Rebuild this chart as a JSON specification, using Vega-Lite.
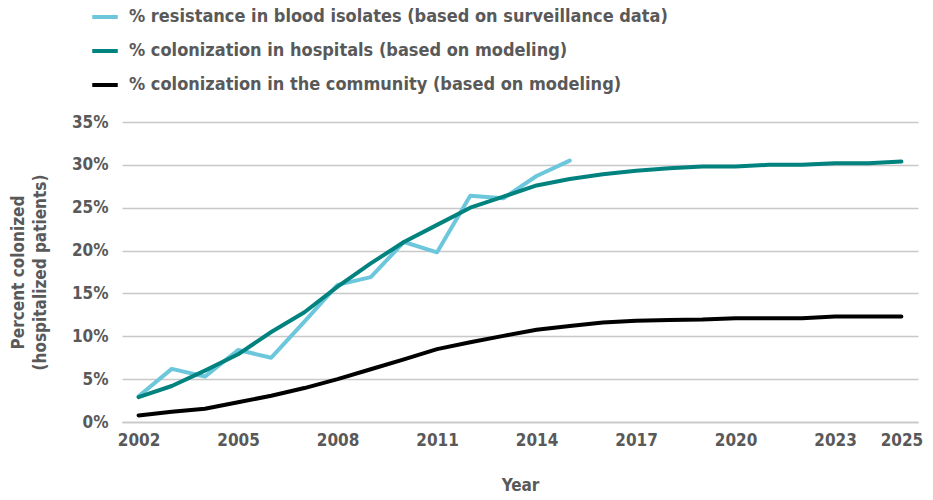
{
  "$schema": "https://vega.github.io/schema/vega-lite/v6.json",
  "width": 796,
  "height": 300,
  "autosize": {"type": "none"},
  "padding": {"left": 122, "top": 122, "right": 15, "bottom": 78},
  "background": "white",
  "config": {
    "view": {"stroke": null},
    "font": "DejaVu Sans Condensed",
    "axis": {"labelFont": "DejaVu Sans Condensed", "titleFont": "DejaVu Sans Condensed"},
    "legend": {"labelFont": "DejaVu Sans Condensed"}
  },
  "data": {
    "values": [
      {"year": 2002, "series": "% resistance in blood isolates (based on surveillance data)", "value": 3.0},
      {"year": 2003, "series": "% resistance in blood isolates (based on surveillance data)", "value": 6.2},
      {"year": 2004, "series": "% resistance in blood isolates (based on surveillance data)", "value": 5.3},
      {"year": 2005, "series": "% resistance in blood isolates (based on surveillance data)", "value": 8.4},
      {"year": 2006, "series": "% resistance in blood isolates (based on surveillance data)", "value": 7.5},
      {"year": 2007, "series": "% resistance in blood isolates (based on surveillance data)", "value": 11.7},
      {"year": 2008, "series": "% resistance in blood isolates (based on surveillance data)", "value": 16.0},
      {"year": 2009, "series": "% resistance in blood isolates (based on surveillance data)", "value": 16.9},
      {"year": 2010, "series": "% resistance in blood isolates (based on surveillance data)", "value": 21.0},
      {"year": 2011, "series": "% resistance in blood isolates (based on surveillance data)", "value": 19.8},
      {"year": 2012, "series": "% resistance in blood isolates (based on surveillance data)", "value": 26.4},
      {"year": 2013, "series": "% resistance in blood isolates (based on surveillance data)", "value": 26.1},
      {"year": 2014, "series": "% resistance in blood isolates (based on surveillance data)", "value": 28.7},
      {"year": 2015, "series": "% resistance in blood isolates (based on surveillance data)", "value": 30.5},
      {"year": 2002, "series": "% colonization in hospitals (based on modeling)", "value": 2.9},
      {"year": 2003, "series": "% colonization in hospitals (based on modeling)", "value": 4.2},
      {"year": 2004, "series": "% colonization in hospitals (based on modeling)", "value": 6.0},
      {"year": 2005, "series": "% colonization in hospitals (based on modeling)", "value": 7.9},
      {"year": 2006, "series": "% colonization in hospitals (based on modeling)", "value": 10.5},
      {"year": 2007, "series": "% colonization in hospitals (based on modeling)", "value": 12.8},
      {"year": 2008, "series": "% colonization in hospitals (based on modeling)", "value": 15.8},
      {"year": 2009, "series": "% colonization in hospitals (based on modeling)", "value": 18.5},
      {"year": 2010, "series": "% colonization in hospitals (based on modeling)", "value": 21.0},
      {"year": 2011, "series": "% colonization in hospitals (based on modeling)", "value": 23.0},
      {"year": 2012, "series": "% colonization in hospitals (based on modeling)", "value": 25.0},
      {"year": 2013, "series": "% colonization in hospitals (based on modeling)", "value": 26.3},
      {"year": 2014, "series": "% colonization in hospitals (based on modeling)", "value": 27.6},
      {"year": 2015, "series": "% colonization in hospitals (based on modeling)", "value": 28.35},
      {"year": 2016, "series": "% colonization in hospitals (based on modeling)", "value": 28.9},
      {"year": 2017, "series": "% colonization in hospitals (based on modeling)", "value": 29.3},
      {"year": 2018, "series": "% colonization in hospitals (based on modeling)", "value": 29.6},
      {"year": 2019, "series": "% colonization in hospitals (based on modeling)", "value": 29.8},
      {"year": 2020, "series": "% colonization in hospitals (based on modeling)", "value": 29.8},
      {"year": 2021, "series": "% colonization in hospitals (based on modeling)", "value": 30.0},
      {"year": 2022, "series": "% colonization in hospitals (based on modeling)", "value": 30.0},
      {"year": 2023, "series": "% colonization in hospitals (based on modeling)", "value": 30.2},
      {"year": 2024, "series": "% colonization in hospitals (based on modeling)", "value": 30.2},
      {"year": 2025, "series": "% colonization in hospitals (based on modeling)", "value": 30.4},
      {"year": 2002, "series": "% colonization in the community (based on modeling)", "value": 0.77},
      {"year": 2003, "series": "% colonization in the community (based on modeling)", "value": 1.2},
      {"year": 2004, "series": "% colonization in the community (based on modeling)", "value": 1.55},
      {"year": 2005, "series": "% colonization in the community (based on modeling)", "value": 2.3},
      {"year": 2006, "series": "% colonization in the community (based on modeling)", "value": 3.07},
      {"year": 2007, "series": "% colonization in the community (based on modeling)", "value": 3.96},
      {"year": 2008, "series": "% colonization in the community (based on modeling)", "value": 5.0},
      {"year": 2009, "series": "% colonization in the community (based on modeling)", "value": 6.15},
      {"year": 2010, "series": "% colonization in the community (based on modeling)", "value": 7.3},
      {"year": 2011, "series": "% colonization in the community (based on modeling)", "value": 8.5},
      {"year": 2012, "series": "% colonization in the community (based on modeling)", "value": 9.3},
      {"year": 2013, "series": "% colonization in the community (based on modeling)", "value": 10.05},
      {"year": 2014, "series": "% colonization in the community (based on modeling)", "value": 10.77},
      {"year": 2015, "series": "% colonization in the community (based on modeling)", "value": 11.2},
      {"year": 2016, "series": "% colonization in the community (based on modeling)", "value": 11.6},
      {"year": 2017, "series": "% colonization in the community (based on modeling)", "value": 11.8},
      {"year": 2018, "series": "% colonization in the community (based on modeling)", "value": 11.9},
      {"year": 2019, "series": "% colonization in the community (based on modeling)", "value": 11.95},
      {"year": 2020, "series": "% colonization in the community (based on modeling)", "value": 12.1},
      {"year": 2021, "series": "% colonization in the community (based on modeling)", "value": 12.1},
      {"year": 2022, "series": "% colonization in the community (based on modeling)", "value": 12.1},
      {"year": 2023, "series": "% colonization in the community (based on modeling)", "value": 12.3},
      {"year": 2024, "series": "% colonization in the community (based on modeling)", "value": 12.3},
      {"year": 2025, "series": "% colonization in the community (based on modeling)", "value": 12.3}
    ]
  },
  "mark": {"type": "line", "strokeWidth": 4, "strokeCap": "round", "strokeJoin": "round"},
  "encoding": {
    "x": {
      "field": "year",
      "type": "quantitative",
      "scale": {"domain": [2001.5, 2025.5], "nice": false, "zero": false},
      "axis": {
        "title": "Year",
        "values": [2002, 2005, 2008, 2011, 2014, 2017, 2020, 2023, 2025],
        "format": "d",
        "grid": false,
        "ticks": false,
        "domain": true,
        "domainColor": "#c8c8c8",
        "domainWidth": 1.5,
        "labelFontSize": 17,
        "labelFontWeight": "bold",
        "labelColor": "#595959",
        "labelPadding": 10,
        "titleFontSize": 17,
        "titleFontWeight": "bold",
        "titleColor": "#595959",
        "titlePadding": 29
      }
    },
    "y": {
      "field": "value",
      "type": "quantitative",
      "scale": {"domain": [0, 35], "nice": false},
      "axis": {
        "title": ["Percent colonized", "(hospitalized patients)"],
        "values": [0, 5, 10, 15, 20, 25, 30, 35],
        "labelExpr": "datum.value + '%'",
        "grid": true,
        "gridColor": "#c8c8c8",
        "gridWidth": 1.5,
        "ticks": false,
        "domain": false,
        "labelFontSize": 17,
        "labelFontWeight": "bold",
        "labelColor": "#595959",
        "labelPadding": 14,
        "titleFontSize": 17,
        "titleFontWeight": "bold",
        "titleColor": "#595959",
        "titlePadding": 22,
        "titleLineHeight": 22
      }
    },
    "color": {
      "field": "series",
      "type": "nominal",
      "sort": [
        "% resistance in blood isolates (based on surveillance data)",
        "% colonization in hospitals (based on modeling)",
        "% colonization in the community (based on modeling)"
      ],
      "scale": {
        "domain": [
          "% resistance in blood isolates (based on surveillance data)",
          "% colonization in hospitals (based on modeling)",
          "% colonization in the community (based on modeling)"
        ],
        "range": ["#6cc7dd", "#00827f", "#000000"]
      },
      "legend": {
        "title": null,
        "orient": "none",
        "legendX": -32,
        "legendY": -120,
        "symbolType": "stroke",
        "symbolStrokeWidth": 4,
        "symbolSize": 650,
        "labelFontSize": 18,
        "labelFontWeight": "bold",
        "labelColor": "#595959",
        "labelOffset": 9,
        "rowPadding": 10,
        "labelLimit": 700
      }
    }
  }
}
